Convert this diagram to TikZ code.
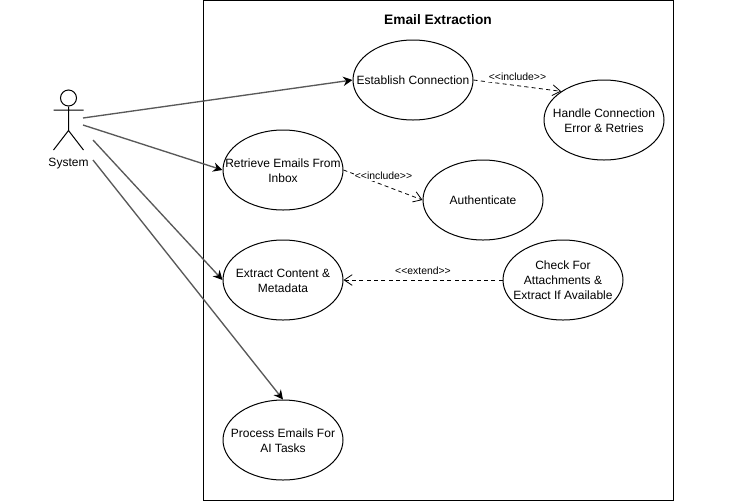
\documentclass[tikz,border=0pt]{standalone}
\usepackage{fontspec}
\setmainfont{Liberation Sans}
\usetikzlibrary{arrows.meta,shapes.geometric}
\tikzset{
 uc/.style={draw=black,ellipse,line width=0.75pt,inner sep=0pt,minimum width=90pt,minimum height=60pt},
 uctext/.style={align=center,inner sep=0pt,font=\fontsize{9pt}{11.2pt}\selectfont},
 lbl/.style={font=\fontsize{7.8pt}{8pt}\selectfont,inner sep=1pt},
 assoc/.style={draw=black!65,line width=1pt,-{Stealth[length=7pt,width=7pt,black]}},
 dep/.style={draw=black,line width=0.6pt,dash pattern=on 3pt off 2.5pt,-{Straight Barb[length=6pt,width=8pt]}},
}
\begin{document}
\begin{tikzpicture}[x=0.75pt,y=-0.75pt]
\useasboundingbox (0,0) rectangle (742,501);
\fill[white] (0,0) rectangle (742,501);
\node[draw=black,line width=0.75pt,minimum width=352.5pt,minimum height=375pt,anchor=north west,inner sep=0pt] (frame) at (203,0) {};
\node[font=\bfseries\fontsize{10.3pt}{12pt}\selectfont] (title) at (438,20) {Email Extraction};
\node[uc] (conn) at (413,80) {};
\node[uctext] (connT) at (conn.center) {Establish Connection};
\node[uc] (err) at (604,120) {};
\node[uctext,yshift=-0.6pt] (errT) at (err.center) {Handle Connection\\Error \& Retries};
\node[uc] (ret) at (283,170) {};
\node[uctext,yshift=-0.6pt] (retT) at (ret.center) {Retrieve Emails From\\Inbox};
\node[uc] (auth) at (483,200) {};
\node[uctext] (authT) at (auth.center) {Authenticate};
\node[uc] (ext) at (283,280) {};
\node[uctext,yshift=-0.6pt] (extT) at (ext.center) {Extract Content \&\\Metadata};
\node[uc] (chk) at (563,280) {};
\node[uctext] (chkT) at (chk.center) {Check For\\Attachments \&\\Extract If Available};
\node[uc] (proc) at (283,440) {};
\node[uctext,yshift=-0.6pt] (procT) at (proc.center) {Process Emails For\\AI Tasks};
% actor
\node[draw=black,circle,line width=0.75pt,minimum size=12pt,inner sep=0pt] (head) at (68.5,98) {};
\coordinate (hip) at (68.5,130.5);
\coordinate (armL) at (53.5,110);
\coordinate (armR) at (83.5,110);
\coordinate (legL) at (53.5,150);
\coordinate (legR) at (83.5,150);
\draw[line width=0.75pt] (head) -- (hip) (armL) -- (armR) (hip) -- (legL) (hip) -- (legR);
\node[font=\fontsize{9pt}{11pt}\selectfont,inner sep=0pt] (sys) at (68.5,164) {System};
\coordinate (a1) at (83,118);
\coordinate (a2) at (83,125);
\coordinate (a3) at (93,140);
\coordinate (a4) at (93,160);
\draw[assoc] (a1) -- (conn.west);
\draw[assoc] (a2) -- (ret.west);
\draw[assoc] (a3) -- (ext.west);
\draw[assoc] (a4) -- (proc.north);
\draw[dep] (conn.east) -- (err.north west);
\draw[dep] (ret.east) -- (auth.west);
\draw[dep] (chk.west) -- (ext.east);
\node[lbl,fill=white] at (517.5,77) {{<}{<}include{>}{>}};
\node[lbl,fill=white] at (383.5,176) {{<}{<}include{>}{>}};
\node[lbl] at (423,271) {{<}{<}extend{>}{>}};
\end{tikzpicture}
\end{document}
